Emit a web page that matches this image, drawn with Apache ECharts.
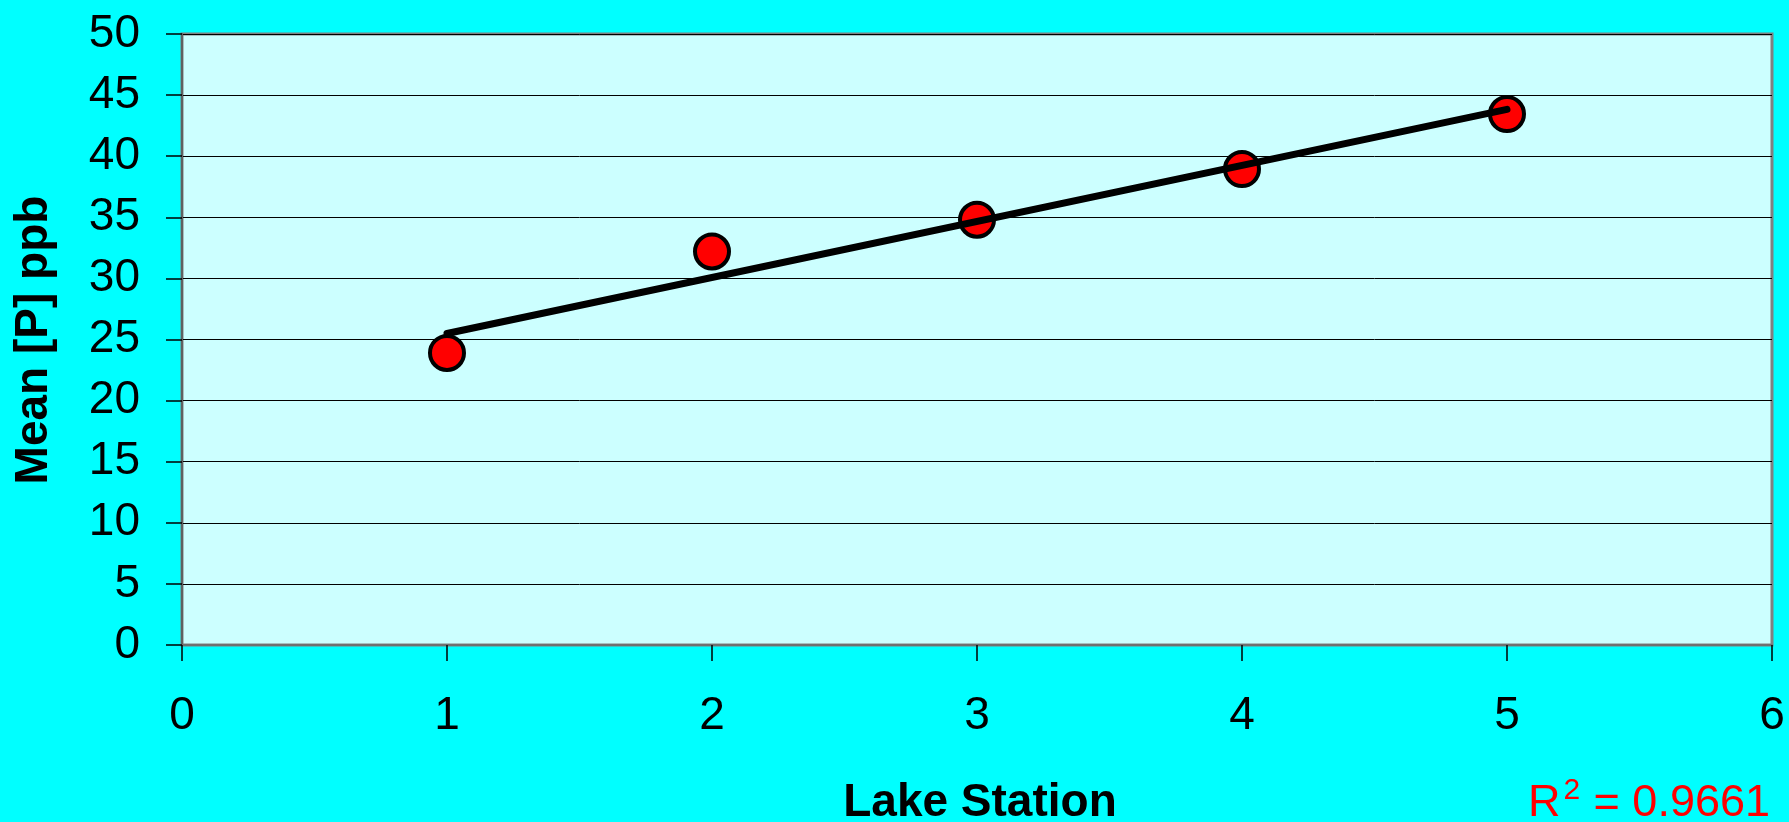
<!DOCTYPE html>
<html>
<head>
<meta charset="utf-8">
<script src="https://cdn.jsdelivr.net/npm/echarts@6/dist/echarts.min.js"></script>
<style>
  html, body { margin: 0; padding: 0; background: #00FFFF; }
  #chart { width: 1789px; height: 822px; }
</style>
</head>
<body>
<div id="chart"></div>
<script>
// Lake stations and their mean phosphorus concentration (ppb)
const stations = [1, 2, 3, 4, 5];
const meanP = [23.9, 32.2, 34.8, 38.95, 43.45];
const rSquaredText = '0.9661';

// Least-squares linear trend through the station means
function linearFit(xs, ys) {
  const n = xs.length;
  const mx = xs.reduce((a, b) => a + b, 0) / n;
  const my = ys.reduce((a, b) => a + b, 0) / n;
  let sxy = 0, sxx = 0;
  for (let i = 0; i < n; i++) {
    sxy += (xs[i] - mx) * (ys[i] - my);
    sxx += (xs[i] - mx) * (xs[i] - mx);
  }
  const slope = sxy / sxx;
  return { slope, intercept: my - slope * mx };
}
const fit = linearFit(stations, meanP);
const xFirst = stations[0], xLast = stations[stations.length - 1];
const trendData = [
  [xFirst, fit.intercept + fit.slope * xFirst],
  [xLast, fit.intercept + fit.slope * xLast]
];

const FONT = '"Liberation Sans", Arial, sans-serif';
const chart = echarts.init(document.getElementById('chart'));
chart.setOption({
  backgroundColor: '#00FFFF',
  animation: false,
  grid: {
    left: 182, top: 34, right: 17, bottom: 177,
    show: true, backgroundColor: '#CCFFFF',
    borderColor: '#808080', borderWidth: 3
  },
  xAxis: {
    type: 'value', min: 0, max: 6, interval: 1,
    axisLine: { show: true, lineStyle: { color: '#707070', width: 2 } },
    axisTick: { show: true, inside: false, length: 16, lineStyle: { color: '#000', width: 1.5 } },
    axisLabel: { fontFamily: FONT, fontSize: 46, color: '#000', margin: 48 },
    splitLine: { show: false }
  },
  yAxis: {
    type: 'value', min: 0, max: 50, interval: 5,
    axisLine: { show: true, lineStyle: { color: '#606060', width: 2 } },
    axisTick: { show: true, inside: false, length: 16, lineStyle: { color: '#000', width: 1.5 } },
    axisLabel: { fontFamily: FONT, fontSize: 46, color: '#000', margin: 42 },
    splitLine: { show: true, lineStyle: { color: '#000', width: 1 } }
  },
  series: [
    {
      type: 'scatter',
      data: stations.map((s, i) => [s, meanP[i]]),
      symbol: 'circle',
      symbolSize: 34,
      itemStyle: { color: '#FF0000', borderColor: '#000', borderWidth: 4, opacity: 1 },
      z: 2
    },
    {
      type: 'line',
      data: trendData,
      showSymbol: false,
      symbol: 'none',
      lineStyle: { color: '#000', width: 7, cap: 'round' },
      z: 3
    }
  ],
  graphic: [
    {
      type: 'text',
      x: 980, y: 826,
      style: {
        text: 'Lake Station',
        font: 'bold 46px ' + FONT,
        fill: '#000',
        textAlign: 'center',
        textVerticalAlign: 'bottom'
      }
    },
    {
      type: 'text',
      x: 34, y: 340,
      rotation: Math.PI / 2,
      style: {
        text: 'Mean [P] ppb',
        font: 'bold 46px ' + FONT,
        fill: '#000',
        textAlign: 'center',
        textVerticalAlign: 'middle'
      }
    },
    {
      type: 'text',
      x: 1770, y: 826,
      style: {
        text: '{r|R}{sup|2}{r| = ' + rSquaredText + '}',
        textAlign: 'right',
        textVerticalAlign: 'bottom',
        rich: {
          r: { font: '45px ' + FONT, fill: '#FF0000', verticalAlign: 'bottom', lineHeight: 50 },
          sup: { font: '30px ' + FONT, fill: '#FF0000', verticalAlign: 'top', lineHeight: 50, padding: [0, 1, 0, 3] }
        }
      }
    }
  ]
});
</script>
</body>
</html>
